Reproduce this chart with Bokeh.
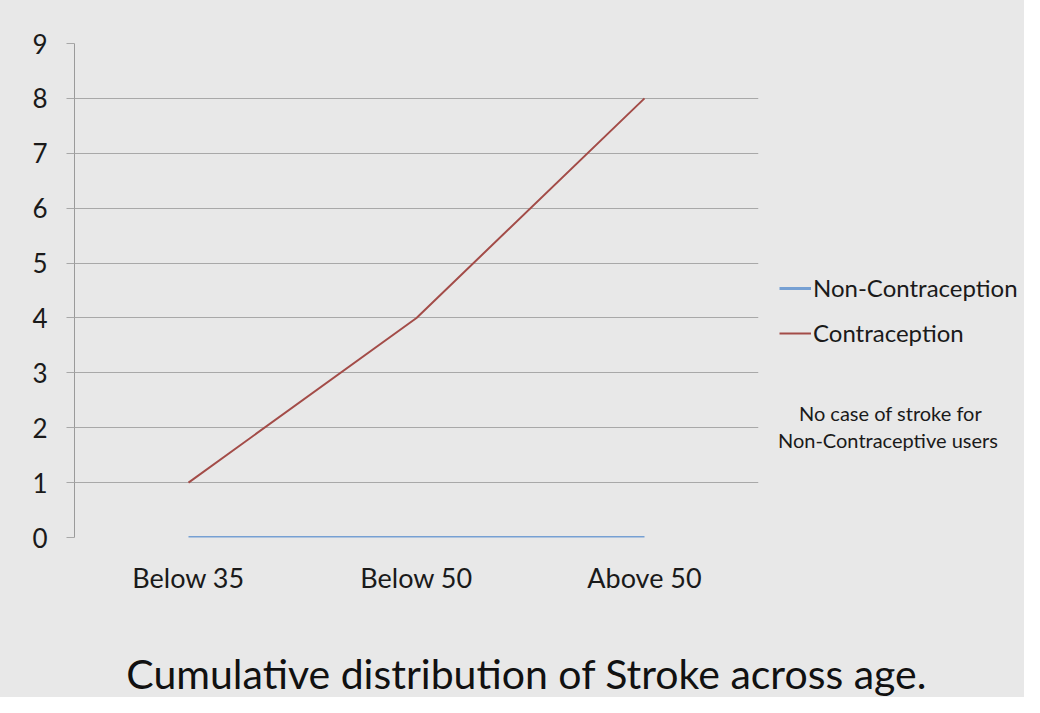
from bokeh.plotting import figure
from bokeh.models import Legend, LegendItem, Label, FixedTicker
from bokeh.layouts import column, row
from bokeh.embed import file_html
from bokeh.resources import INLINE

categories = ["Below 35", "Below 50", "Above 50"]
non_contraception = [0, 0, 0]
contraception = [1, 4, 8]
y_ticks = [0, 1, 2, 3, 4, 5, 6, 7, 8, 9]
series_names = ["Non-Contraception", "Contraception"]
title_text = "Cumulative distribution of  Stroke  across  age."
note_lines = ["No case of stroke for", "Non-Contraceptive  users"]

FONT = "Lato"
BG = "#e8e8e8"
BLUE = "#76a0d3"
RED = "#a34c48"
TXT = "#1a1a1a"

MAIN_W, TOP_H, SIDE_W, TITLE_H = 760, 615, 264, 82
FRAME_BOTTOM = 537  # page y of the value-0 line

# ---- main chart ----
p = figure(width=MAIN_W, height=TOP_H, x_range=categories, y_range=(0, 9),
           output_backend="svg", toolbar_location=None,
           min_border_left=74, min_border_right=2, min_border_top=43,
           min_border_bottom=TOP_H - FRAME_BOTTOM)
p.background_fill_color = BG
p.border_fill_color = BG
p.outline_line_color = None

p.xgrid.grid_line_color = None
p.ygrid.grid_line_color = "#a8a8a8"
p.ygrid.grid_line_width = 1
p.yaxis.ticker = FixedTicker(ticks=y_ticks)
p.yaxis.axis_line_color = "#9a9a9a"
p.yaxis.major_tick_line_color = "#a8a8a8"
p.yaxis.major_tick_out = 8
p.yaxis.major_tick_in = 0
p.yaxis.minor_tick_line_color = None
p.yaxis.major_label_standoff = 19
p.yaxis.major_label_text_font = FONT
p.yaxis.major_label_text_font_size = "26px"
p.yaxis.major_label_text_color = TXT

p.xaxis.axis_line_color = None
p.xaxis.major_tick_line_color = None
p.xaxis.minor_tick_line_color = None
p.xaxis.major_label_standoff = 17
p.xaxis.major_label_text_font = FONT
p.xaxis.major_label_text_font_size = "27px"
p.xaxis.major_label_text_color = TXT

p.line(categories, non_contraception, line_color=BLUE, line_width=3)
p.line(categories, contraception, line_color=RED, line_width=2)

# ---- side panel: legend + note ----
s = figure(width=SIDE_W, height=TOP_H, x_range=(0, 1), y_range=(0, 1),
           output_backend="svg", toolbar_location=None,
           min_border_left=0, min_border_right=0, min_border_top=0,
           min_border_bottom=0)
s.axis.visible = False
s.grid.visible = False
s.background_fill_color = BG
s.border_fill_color = BG
s.outline_line_color = None
idx = list(range(len(categories)))
# hidden copies of the two series, used only as legend proxies
lb = s.line(idx, non_contraception, line_color=BLUE, line_width=3, visible=False)
lr = s.line(idx, contraception, line_color=RED, line_width=2, visible=False)
legend = Legend(items=[LegendItem(label=series_names[0], renderers=[lb]),
                       LegendItem(label=series_names[1], renderers=[lr])],
                location=(19, 190), orientation="vertical",
                background_fill_alpha=0, border_line_color=None,
                inactive_fill_alpha=0,
                label_text_font=FONT, label_text_font_size="24px",
                label_text_color=TXT, glyph_width=32, label_standoff=2,
                spacing=16, padding=0, margin=0)
s.add_layout(legend)
for line, cy in zip(note_lines, [412, 439]):
    s.add_layout(Label(x=890 - MAIN_W, y=FRAME_BOTTOM - cy, x_units="screen", y_units="screen",
                       text=line, text_font=FONT, text_font_size="20px",
                       text_color=TXT, text_align="center", text_baseline="middle"))

# ---- title strip ----
t = figure(width=MAIN_W + SIDE_W, height=TITLE_H, x_range=(0, 1), y_range=(0, 1),
           output_backend="svg", toolbar_location=None,
           min_border_left=0, min_border_right=0, min_border_top=0,
           min_border_bottom=0)
t.axis.visible = False
t.grid.visible = False
t.background_fill_color = BG
t.border_fill_color = BG
t.outline_line_color = None
t.add_layout(Label(x=542, y=TOP_H + TITLE_H - 673, x_units="screen", y_units="screen",
                   text=title_text, text_font=FONT, text_font_size="41px",
                   text_color="#111111", text_align="center", text_baseline="middle"))

top = row(p, s, spacing=0, styles={"background-color": BG})
layout = column(top, t, spacing=0, styles={"background-color": BG})
open("out.html", "w").write(file_html(layout, INLINE))
